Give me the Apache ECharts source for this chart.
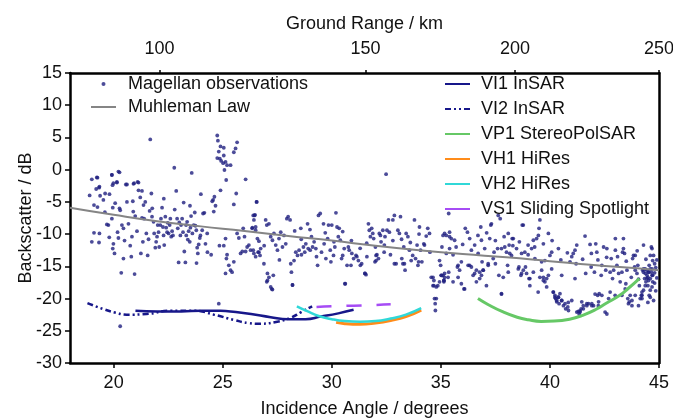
<!DOCTYPE html>
<html>
<head>
<meta charset="utf-8">
<script src="https://cdn.jsdelivr.net/npm/echarts@6/dist/echarts.min.js"></script>
<style>
  html, body { margin: 0; padding: 0; background: #fff; }
  #chart { width: 673px; height: 420px; }
</style>
</head>
<body>
<div id="chart"></div>
<script>
// incidence angle (deg) ticks on the bottom axis
const angleTicks = [20, 25, 30, 35, 40, 45];
// ground range (km) ticks on the top axis and the incidence angle where each sits
const groundRangeKm = [100, 150, 200, 250];
const groundRangeAngles = [22.1, 31.55, 38.4, 45.0];

// Muhleman law, [angle, dB]
const muhleman = [
  [18, -5.9], [20, -7.0], [22, -8.0], [24, -8.8], [26, -9.5], [28, -10.3], [30, -11.0],
  [32, -11.8], [34, -12.5], [36, -13.1], [38, -13.6], [40, -14.2], [42, -14.8], [44, -15.3], [45, -15.6]
];

// Venus mission modes, [angle, dB]
const vi1 = [[21.0, -21.9], [22.0, -22.0], [23.1, -22.0], [24.0, -21.9], [24.9, -21.9], [25.6, -22.1],
  [26.3, -22.4], [27.2, -22.9], [28.0, -23.2], [28.8, -23.2], [29.5, -22.8], [30.3, -22.3], [31.0, -21.75]];
const vi2 = [[18.8, -20.7], [19.5, -21.6], [20.1, -22.2], [20.6, -22.5], [21.5, -22.4], [22.6, -21.9],
  [23.7, -21.9], [24.6, -22.5], [25.5, -23.3], [26.2, -23.8], [26.7, -23.9], [27.5, -23.6], [28.1, -23.0],
  [28.6, -22.1], [29.1, -21.2]];
const vp1 = [[36.7, -20.0], [37.2, -21.0], [37.8, -22.0], [38.5, -22.9], [39.0, -23.3], [39.6, -23.55],
  [40.2, -23.5], [40.9, -23.2], [41.5, -22.6], [42.1, -21.7], [42.6, -20.7], [43.2, -19.5], [43.6, -18.4], [44.1, -16.9]];
const vh1 = [[30.2, -23.7], [30.6, -23.9], [31.3, -24.0], [32.0, -23.8], [32.7, -23.4], [33.4, -22.8], [34.1, -21.8]];
const vh2 = [[28.4, -21.2], [28.9, -22.0], [29.4, -22.7], [30.0, -23.2], [30.6, -23.5], [31.3, -23.6],
  [32.0, -23.5], [32.7, -23.1], [33.4, -22.5], [34.1, -21.5]];
const vs1 = [[29.3, -21.3], [30.0, -21.2], [31.0, -21.1], [32.0, -21.0], [32.7, -20.9]];

// Magellan observations, [angle, dB]
const magellan = [
  [19.0, -1.5], [19.1, -5.5], [19.0, -11.2], [19.1, -9.8], [19.2, -3.0], [18.9, -4.0], [20.3, -24.3],
  [19.23, -1.2], [19.92, -0.83], [20.27, -0.42], [20.15, -2.0], [19.95, -2.4], [20.56, -2.3], [20.91, -2.2], [21.14, -2.0], [19.35, -2.65],
  [24.75, 5.3], [24.78, 4.5], [24.9, 3.6], [25.05, 3.4], [24.82, 2.8], [24.75, 1.8], [24.87, 1.7], [24.93, 1.35],
  [25.05, 2.2], [25.13, 1.2], [25.2, 0.7], [25.02, 1.0], [25.08, -0.05], [25.16, -1.6], [24.9, -3.2], [24.62, -4.2],
  [24.52, -4.9], [24.67, -5.6], [25.66, 4.25], [25.59, 3.3], [25.51, 2.7], [25.36, 0.7], [25.62, -3.7], [25.51, -5.4],
  [26.05, -1.5], [26.55, -5.0], [26.48, -7.0], [26.43, -7.8],
  [25.2, -13.2], [25.17, -13.8], [25.28, -14.85], [25.36, -15.6], [25.43, -15.9], [25.51, -14.3], [25.13, -16.1], [24.82, -20.8],
  [19.26, -1.25], [19.33, -2.8], [19.38, -4.05], [19.61, -3.7], [19.81, -3.8], [19.53, -4.7], [19.26, -5.8], [19.35, -9.9],
  [19.33, -11.3], [19.69, -8.5], [19.76, -8.6], [19.92, -7.6], [19.96, -5.9], [19.92, -0.8], [19.99, -2.1], [20.07, -5.2],
  [20.15, -1.9], [20.22, -0.3], [20.27, -6.0], [20.3, -6.3], [20.18, -9.7], [20.22, -10.6], [19.99, -11.5], [19.96, -12.25],
  [20.04, -13.0], [20.38, -8.6], [20.45, -9.1], [20.45, -13.8], [20.35, -16.0], [20.61, -2.3], [20.61, -5.0], [20.68, -8.4],
  [20.76, -11.8], [20.81, -13.5], [20.84, -10.4], [20.88, -4.9], [20.94, -2.1], [20.96, -16.2], [20.99, -7.2], [21.07, -9.55],
  [21.1, -1.9], [21.14, -3.2], [21.22, -4.3], [21.25, -13.0], [21.3, -7.5], [21.34, -11.2], [21.3, -3.3], [21.37, -5.5],
  [21.45, -5.0], [21.4, -7.6], [21.5, -9.9], [21.56, -13.3], [21.65, -6.4], [21.68, 4.7], [21.73, -3.7], [21.76, -7.3],
  [21.77, -6.0], [21.83, -8.1], [21.86, -9.9], [21.91, -12.1], [21.95, -11.2], [21.99, -10.4], [22.02, -8.6], [22.06, -9.7],
  [22.09, -12.0], [22.14, -8.6], [22.17, -7.6], [22.22, -5.9], [22.26, -8.9], [22.29, -10.2], [22.32, -11.7], [22.37, -7.3],
  [22.41, -9.0], [22.45, -9.7], [22.48, -8.25], [22.52, -9.9], [22.57, -8.6], [22.6, -7.6], [22.64, -10.4], [22.68, -9.55],
  [22.72, -10.2], [22.78, 0.3], [22.87, -3.3], [22.91, -7.6], [22.94, -9.1], [22.98, -14.4], [23.01, -8.2], [23.06, -10.2],
  [23.09, -8.6], [23.14, -7.6], [23.18, -9.7], [23.21, -5.1], [23.24, -12.7], [23.29, -14.4], [23.32, -8.6], [23.33, -10.2],
  [23.37, -8.1], [23.4, -10.85], [23.44, -9.55], [23.49, -11.2], [23.52, -9.0], [23.55, -7.2], [23.58, -0.5], [23.61, -9.9],
  [23.67, -8.6], [23.72, -6.65], [23.75, -8.7], [23.79, -9.4], [23.83, -12.1], [23.86, -13.0], [23.9, -11.6], [23.95, -10.6],
  [23.98, -10.2], [24.06, -9.4], [24.1, -6.8], [24.16, -6.7], [24.21, -11.5], [24.29, -9.9], [24.47, -13.2], [24.56, -4.7],
  [24.59, -6.5], [24.85, -11.8], [25.05, -11.8], [25.13, -10.7], [25.66, -9.9], [25.74, -10.6], [25.82, -13.0], [25.9, -12.7],
  [25.94, -9.1], [26.0, -10.4], [26.05, -12.7], [26.12, -12.0], [26.2, -11.7], [26.28, -12.5], [26.35, -9.1], [26.4, -7.1],
  [26.43, -13.0], [26.51, -8.9], [26.62, -12.8], [26.66, -11.1], [26.71, -13.3],
  [26.56, -5.0], [26.46, -7.1], [26.36, -9.0], [26.51, -9.4], [26.59, -10.7], [26.4, -12.5], [26.66, -12.8], [26.74, -12.25],
  [26.51, -13.5], [26.89, -14.6], [26.97, -7.8], [27.02, -8.6], [27.12, -8.4], [27.2, -10.4], [27.28, -10.95], [27.35, -9.9],
  [27.05, -16.1], [27.12, -16.7], [27.02, -17.4], [27.2, -18.2], [27.28, -18.6], [27.32, -16.4], [27.43, -11.7], [27.51, -12.5],
  [27.58, -10.7], [27.66, -9.7], [27.74, -12.0], [27.81, -10.2], [27.89, -11.5], [27.94, -7.6], [28.0, -7.3], [28.09, -7.8],
  [28.12, -14.6], [28.15, -15.9], [28.2, -17.9], [28.27, -14.1], [28.35, -12.8], [28.43, -13.3], [28.5, -12.5], [28.58, -9.1],
  [28.61, -13.2], [28.7, -12.0], [28.76, -12.8], [28.81, -11.5], [28.89, -8.4], [28.92, -12.25], [29.01, -12.5], [29.07, -10.4],
  [29.12, -12.0], [29.19, -11.2], [29.27, -12.25], [29.35, -14.85], [29.39, -7.1], [29.47, -6.8], [29.53, -12.8], [29.62, -8.4],
  [29.65, -11.5], [29.73, -13.8], [29.81, -10.7], [29.85, -8.6], [29.93, -12.5], [29.96, -14.3], [30.0, -8.6], [30.08, -13.3],
  [30.14, -12.0], [30.19, -6.7], [30.24, -8.9], [30.3, -10.4], [30.34, -9.1], [30.39, -10.95], [30.45, -13.8], [30.5, -13.3],
  [30.57, -12.25], [30.62, -17.7], [30.7, -14.85], [30.76, -12.0], [30.8, -12.5], [30.88, -14.85], [30.92, -13.0], [31.0, -13.8],
  [31.11, -13.3], [31.15, -13.5], [31.22, -14.1], [31.31, -14.85], [31.37, -14.6], [31.52, -16.1], [31.57, -16.3], [31.61, -13.5],
  [31.68, -8.4], [31.72, -9.4], [31.77, -10.4], [31.83, -9.1], [31.88, -9.9], [31.92, -10.7], [31.98, -14.3], [32.03, -13.3],
  [32.07, -13.2], [32.14, -13.8], [32.18, -9.9], [32.23, -10.2], [32.26, -11.2], [32.34, -9.4], [32.41, -11.7], [32.44, -10.4],
  [32.49, -0.7], [32.53, -9.4], [32.6, -7.8], [32.64, -9.7], [32.69, -13.2], [32.8, -7.8], [32.87, -7.1], [32.95, -14.6],
  [33.03, -9.4], [33.1, -9.9], [33.15, -7.3], [33.21, -13.8], [33.26, -14.6], [33.3, -12.0], [33.36, -15.6], [33.41, -9.9],
  [33.49, -10.4], [33.56, -12.5], [33.64, -14.1], [33.71, -13.3], [33.79, -7.8], [33.84, -13.8], [33.91, -11.7], [33.98, -14.3],
  [34.02, -8.9], [34.07, -12.5], [34.13, -14.3], [34.22, -11.5], [34.25, -11.7], [34.33, -10.3], [34.4, -9.1], [34.48, -9.9],
  [34.56, -16.7], [34.64, -18.0], [34.68, -17.2], [34.74, -20.8], [34.79, -20.0], [34.86, -18.0], [34.94, -14.1], [34.99, -14.85],
  [35.02, -16.4], [35.1, -16.4], [35.14, -17.2], [35.05, -12.0], [35.17, -9.9], [35.25, -13.0], [35.4, -10.4], [34.75, -21.85],
  [31.52, -16.1], [34.64, -16.7], [34.79, -18.2], [34.71, -20.0], [35.02, -16.4], [34.94, -17.4], [35.17, -16.7], [35.14, -17.4],
  [35.36, -15.9], [35.56, -17.4], [35.79, -16.7], [35.94, -17.7], [36.09, -18.5], [36.25, -14.85], [36.55, -16.1], [36.63, -17.4],
  [36.78, -15.9], [36.86, -16.4], [36.94, -15.6], [37.78, -19.3], [38.09, -15.9], [38.55, -15.4], [38.7, -16.1], [39.08, -16.9],
  [39.46, -19.0], [39.7, -16.7], [39.85, -16.9], [40.15, -19.0], [40.23, -19.8], [40.31, -20.3], [40.38, -19.8], [40.54, -20.3],
  [40.69, -20.8], [40.84, -20.6], [41.0, -20.3], [41.23, -22.1], [41.38, -21.9], [41.53, -21.6], [41.69, -21.1], [41.92, -20.8],
  [42.07, -19.3], [42.22, -21.1], [42.38, -19.5], [42.61, -22.4], [42.76, -19.0], [42.99, -19.5], [43.3, -19.5], [43.6, -20.8],
  [43.76, -20.3], [43.91, -19.5], [44.06, -21.1], [44.22, -20.0], [44.29, -18.7], [44.37, -18.0], [44.45, -16.9], [44.52, -15.9],
  [44.6, -15.4], [44.68, -16.4], [44.55, -19.5], [44.49, -20.6],
  [32.03, -14.1], [32.87, -14.6], [33.33, -14.6], [33.95, -14.85], [35.79, -14.85], [36.32, -14.85], [37.17, -14.6], [34.68, -18.0],
  [27.25, -18.5], [27.05, -17.2], [28.2, -17.9], [30.6, -17.7],
  [35.36, -6.8], [35.25, -10.2], [35.48, -10.7], [35.63, -10.95], [35.4, -12.25], [35.56, -13.2], [35.17, -16.1], [35.33, -16.7],
  [35.14, -17.2], [35.76, -15.1], [35.86, -15.6], [35.94, -14.3], [36.06, -18.5], [36.12, -9.1], [36.22, -9.7], [36.32, -10.7],
  [36.4, -15.1], [36.48, -16.4], [36.55, -11.7], [36.63, -15.6], [36.71, -13.0], [36.78, -16.9], [36.83, -8.9], [36.89, -14.3],
  [36.94, -15.6], [37.01, -12.25], [37.09, -18.0], [37.17, -14.85], [37.24, -10.7], [37.32, -8.4], [37.4, -13.8], [37.44, -12.8],
  [37.5, -14.6], [37.6, -12.25], [37.63, -7.1], [37.66, -16.4], [37.72, -7.6], [37.78, -19.25], [37.86, -16.7], [37.93, -12.0],
  [38.01, -12.8], [38.06, -14.85], [38.13, -11.7], [38.16, -13.0], [38.24, -13.3], [38.32, -10.7], [38.47, -12.25], [38.58, -15.1],
  [38.67, -16.4], [38.73, -8.6], [38.78, -15.6], [38.88, -15.1], [38.93, -16.1], [39.04, -16.9], [39.08, -18.0], [39.16, -12.25],
  [39.24, -15.9], [39.31, -13.8], [39.39, -10.7], [39.47, -10.2], [39.54, -16.7], [39.62, -15.6], [39.7, -17.2], [39.77, -17.4],
  [39.85, -18.2], [39.93, -16.4], [40.0, -13.3], [40.08, -12.8], [40.16, -19.0], [40.23, -19.5], [40.26, -20.0], [40.31, -20.5],
  [40.39, -19.8], [40.42, -20.8], [40.46, -19.25], [40.54, -20.3], [40.62, -21.1], [40.72, -21.6], [40.82, -21.3], [40.85, -21.85],
  [40.92, -14.3], [41.0, -13.5], [41.07, -13.0], [41.15, -12.5], [41.23, -11.7], [41.3, -22.0], [41.34, -22.4], [41.38, -22.1],
  [41.43, -21.6], [41.46, -20.5], [41.53, -21.1], [41.61, -10.3], [41.64, -16.1], [41.69, -20.8], [41.77, -20.8], [41.84, -11.6],
  [41.89, -15.1], [41.92, -21.1], [42.0, -21.1], [42.04, -15.9], [42.1, -11.5], [42.15, -12.8], [42.19, -19.5], [42.23, -20.5],
  [42.26, -19.25], [42.35, -16.4], [42.38, -14.85], [42.46, -12.0], [42.53, -22.1], [42.56, -15.6], [42.61, -12.25], [42.69, -20.0],
  [42.76, -15.9], [42.81, -13.8], [42.87, -16.9], [42.92, -15.6], [43.0, -12.5], [43.07, -14.85], [43.15, -16.1], [43.22, -17.4],
  [43.3, -15.9], [43.33, -12.8], [43.37, -12.25], [43.42, -13.0], [43.45, -18.5], [43.48, -17.7], [43.53, -15.6], [43.57, -20.0],
  [43.64, -20.5], [43.68, -19.5], [43.73, -16.7], [43.76, -21.1], [43.79, -13.8], [43.83, -13.3], [43.88, -15.1], [43.91, -15.6],
  [43.99, -16.1], [44.03, -14.85], [44.06, -17.0], [44.1, -18.0], [44.14, -20.0], [44.19, -19.5], [44.22, -19.0], [44.25, -15.6],
  [44.29, -15.9], [44.34, -16.9], [44.37, -15.4], [44.4, -17.4], [44.45, -16.4], [44.49, -18.0], [44.52, -15.9], [44.55, -14.85],
  [44.6, -16.9], [44.6, -13.3], [44.65, -12.0], [44.68, -18.2], [44.68, -15.4], [44.71, -14.1], [44.71, -16.4], [44.65, -15.9],
  [44.52, -17.2], [44.45, -15.6], [44.37, -16.1], [44.6, -18.7], [44.71, -17.4], [44.49, -16.7], [44.29, -15.4], [44.22, -19.5],
  [35.1, -10.2], [35.4, -9.7], [36.86, -10.95], [37.29, -8.6], [38.09, -9.9], [38.27, -10.7], [38.7, -13.0], [38.85, -12.8],
  [39.5, -9.1], [39.93, -9.9], [39.54, -7.8], [38.78, -8.6], [37.78, -12.25], [39.0, -11.7], [39.24, -10.95], [39.62, -14.3],
  [39.77, -14.1], [40.08, -15.4], [40.39, -12.25], [40.54, -16.4], [41.15, -16.9], [43.0, -10.7], [43.37, -10.7], [43.91, -13.3],
  [44.29, -11.7], [44.68, -12.25], [44.75, -13.3],
  [28.3, -9.5], [28.6, -10.8], [29.0, -9.3], [29.3, -13.5], [29.7, -9.8], [30.1, -11.2], [30.5, -9.6], [30.9, -11.0],
  [31.3, -12.2], [31.6, -11.4], [32.0, -12.0], [32.4, -12.8], [32.8, -11.0], [33.2, -10.8], [33.6, -11.3], [34.0, -10.0],
  [34.5, -12.8], [35.7, -12.0], [36.0, -11.6], [36.4, -12.5], [36.7, -10.2], [37.1, -9.8], [37.5, -11.0], [37.9, -10.4],
  [38.3, -11.8], [38.6, -11.2], [39.0, -13.2], [39.3, -12.0], [39.7, -11.5], [40.1, -11.0], [40.5, -14.0], [40.8, -12.9],
  [41.2, -14.6], [41.5, -13.9], [41.9, -13.0], [42.2, -14.0], [42.6, -13.6], [43.1, -13.5], [43.5, -14.2], [44.0, -12.6],
  [44.4, -13.9], [44.8, -14.6], [44.8, -16.0], [44.8, -17.6], [44.85, -15.2], [44.9, -16.8], [44.9, -14.0], [44.85, -18.8],
  [44.6, -19.8], [44.75, -20.3], [22.3, -4.5], [22.8, -6.2], [23.5, -5.6], [24.0, -3.8], [21.6, -10.8], [20.9, -6.5],
  [19.6, -6.6], [19.8, -10.5], [20.5, -11.0], [23.8, -14.5], [24.3, -12.8], [26.9, -11.8], [27.6, -14.0]
];

const font = 'Liberation Sans, Arial, sans-serif';
const chart = echarts.init(document.getElementById('chart'), null, { renderer: 'canvas' });

const option = {
  animation: false,
  backgroundColor: '#fff',
  textStyle: { fontFamily: font, color: '#000' },
  grid: { left: 70, right: 14, top: 73, bottom: 57, outerBoundsMode: 'none' },
  legend: [
    {
      orient: 'vertical',
      left: 90,
      top: 74,
      padding: 0,
      itemGap: 3,
      itemWidth: 25,
      itemHeight: 4,
      textStyle: { fontFamily: font, fontSize: 18, color: '#111', lineHeight: 20, padding: [0, 0, 0, 7] },
      data: ['Magellan observations', { name: 'Muhleman Law', itemStyle: { opacity: 0 } }]
    },
    {
      orient: 'vertical',
      left: 444,
      top: 74,
      padding: 0,
      itemGap: 5,
      itemWidth: 25,
      itemHeight: 6,
      itemStyle: { opacity: 0 },
      textStyle: { fontFamily: font, fontSize: 18, color: '#111', lineHeight: 20, padding: [0, 0, 0, 6] },
      data: ['VI1 InSAR', 'VI2 InSAR', 'VP1 StereoPolSAR', 'VH1 HiRes', 'VH2 HiRes',
        { name: 'VS1 Sliding Spotlight', lineStyle: { type: 'solid' } }]
    }
  ],
  xAxis: [
    {
      type: 'value',
      position: 'bottom',
      min: 18,
      max: 45,
      name: 'Incidence Angle / degrees',
      nameLocation: 'middle',
      nameGap: 37,
      nameMoveOverlap: false,
      nameTextStyle: { fontFamily: font, fontSize: 18, color: '#111' },
      axisLine: { show: true, onZero: false, lineStyle: { color: '#000', width: 2.5 } },
      axisTick: { show: true, inside: false, length: 5, lineStyle: { color: '#000', width: 1.5 }, customValues: angleTicks },
      axisLabel: { fontFamily: font, fontSize: 18, color: '#111', margin: 11, customValues: angleTicks },
      splitLine: { show: false }
    },
    {
      type: 'value',
      position: 'top',
      min: 18,
      max: 45,
      name: 'Ground Range / km',
      nameLocation: 'middle',
      nameGap: 40,
      nameMoveOverlap: false,
      nameTextStyle: { fontFamily: font, fontSize: 18, color: '#111' },
      axisLine: { show: true, onZero: false, lineStyle: { color: '#000', width: 2.5 } },
      axisTick: { show: true, inside: false, length: 3, lineStyle: { color: '#000', width: 1.5 }, customValues: groundRangeAngles },
      axisLabel: {
        fontFamily: font, fontSize: 18, color: '#111', margin: 15,
        customValues: groundRangeAngles,
        formatter: (v) => {
          let best = 0;
          groundRangeAngles.forEach((a, i) => { if (Math.abs(a - v) < Math.abs(groundRangeAngles[best] - v)) best = i; });
          return String(groundRangeKm[best]);
        }
      },
      splitLine: { show: false }
    }
  ],
  yAxis: [
    {
      type: 'value',
      position: 'left',
      min: -30,
      max: 15,
      interval: 5,
      name: 'Backscatter / dB',
      nameLocation: 'middle',
      nameGap: 35,
      nameMoveOverlap: false,
      nameTextStyle: { fontFamily: font, fontSize: 18, color: '#111' },
      axisLine: { show: true, onZero: false, lineStyle: { color: '#000', width: 2.5 } },
      axisTick: { show: true, inside: false, length: 5, lineStyle: { color: '#000', width: 1.5 } },
      axisLabel: { fontFamily: font, fontSize: 18, color: '#111', margin: 8 },
      splitLine: { show: false }
    },
    {
      type: 'value',
      position: 'right',
      min: -30,
      max: 15,
      interval: 5,
      axisLine: { show: true, onZero: false, lineStyle: { color: '#000', width: 2.5 } },
      axisTick: { show: false },
      axisLabel: { show: false },
      splitLine: { show: false }
    }
  ],
  series: [
    {
      name: 'Magellan observations',
      type: 'scatter',
      data: magellan,
      symbol: 'circle',
      symbolSize: 3.8,
      itemStyle: { color: '#1f1f80' },
      z: 2
    },
    {
      name: 'Muhleman Law',
      type: 'line',
      data: muhleman,
      smooth: true,
      symbol: 'none',
      lineStyle: { color: '#858585', width: 2 },
      itemStyle: { color: '#858585' },
      z: 3
    },
    {
      name: 'VI1 InSAR',
      type: 'line',
      data: vi1,
      smooth: true,
      symbol: 'none',
      lineStyle: { color: '#17178a', width: 2.5 },
      itemStyle: { color: '#17178a' },
      z: 4
    },
    {
      name: 'VI2 InSAR',
      type: 'line',
      data: vi2,
      smooth: true,
      symbol: 'none',
      lineStyle: { color: '#17178a', width: 2.5, type: [6, 3, 2, 3, 2, 3] },
      itemStyle: { color: '#17178a' },
      z: 4
    },
    {
      name: 'VP1 StereoPolSAR',
      type: 'line',
      data: vp1,
      smooth: true,
      symbol: 'none',
      lineStyle: { color: '#66c866', width: 3 },
      itemStyle: { color: '#66c866' },
      z: 4
    },
    {
      name: 'VH1 HiRes',
      type: 'line',
      data: vh1,
      smooth: true,
      symbol: 'none',
      lineStyle: { color: '#ff8c1a', width: 3 },
      itemStyle: { color: '#ff8c1a' },
      z: 4
    },
    {
      name: 'VH2 HiRes',
      type: 'line',
      data: vh2,
      smooth: true,
      symbol: 'none',
      lineStyle: { color: '#30d8d8', width: 2.5 },
      itemStyle: { color: '#30d8d8' },
      z: 5
    },
    {
      name: 'VS1 Sliding Spotlight',
      type: 'line',
      data: vs1,
      smooth: true,
      symbol: 'none',
      lineStyle: { color: '#a64cf5', width: 2.5, type: [15, 15] },
      itemStyle: { color: '#a64cf5' },
      z: 4
    }
  ]
};

chart.setOption(option);
</script>
</body>
</html>
